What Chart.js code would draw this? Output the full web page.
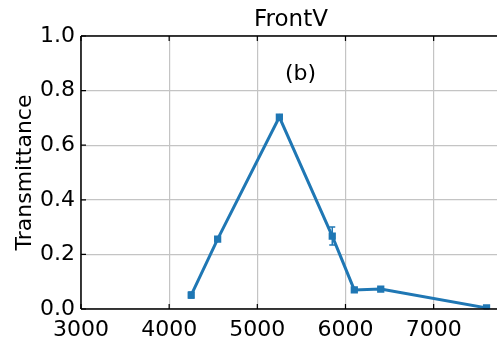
<!DOCTYPE html>
<html>
<head>
<meta charset="utf-8">
<script src="https://cdn.jsdelivr.net/npm/chart.js@4.4.0/dist/chart.umd.min.js"></script>
<style>
  html, body { margin: 0; padding: 0; background: #fff; overflow: hidden; }
  #wrap { width: 505px; height: 345px; }
</style>
</head>
<body>
<div id="wrap"><canvas id="myChart" width="505" height="345"></canvas></div>
<script>
const wavelengths = [4250, 4550, 5250, 5850, 6100, 6400, 7600];
const transmittance = [0.051, 0.256, 0.703, 0.267, 0.070, 0.073, 0.004];
const transErr = [0.011, 0.004, 0.005, 0.033, 0.004, 0.004, 0.003];
const xTicks = [3000, 4000, 5000, 6000, 7000];
const yTicks = [0.0, 0.2, 0.4, 0.6, 0.8, 1.0];

const lineColor = "#1f77b4";
const fontFam = "'DejaVu Sans', sans-serif";

// error bars, inward ticks, spines, title and "(b)" note
const extras = {
  id: "extras",
  afterDatasetsDraw(chart) {
    const ctx = chart.ctx;
    const xs = chart.scales.x, ys = chart.scales.y;
    ctx.save();
    ctx.strokeStyle = lineColor;
    ctx.lineWidth = 1.5;
    wavelengths.forEach((w, i) => {
      const px = xs.getPixelForValue(w);
      const y1 = ys.getPixelForValue(transmittance[i] - transErr[i]);
      const y2 = ys.getPixelForValue(transmittance[i] + transErr[i]);
      ctx.beginPath();
      ctx.moveTo(px, y1); ctx.lineTo(px, y2);
      ctx.moveTo(px - 3, y1); ctx.lineTo(px + 3, y1);
      ctx.moveTo(px - 3, y2); ctx.lineTo(px + 3, y2);
      ctx.stroke();
    });
    ctx.restore();
  },
  afterDraw(chart) {
    const ctx = chart.ctx;
    const a = chart.chartArea;
    const xs = chart.scales.x, ys = chart.scales.y;
    ctx.save();
    ctx.strokeStyle = "#000";
    ctx.lineWidth = 1.5;
    ctx.beginPath();
    ctx.moveTo(a.left, a.top); ctx.lineTo(a.right + 5, a.top);
    ctx.moveTo(a.left, a.top); ctx.lineTo(a.left, a.bottom);
    ctx.moveTo(a.left, a.bottom); ctx.lineTo(a.right + 5, a.bottom);
    ctx.stroke();
    ctx.lineWidth = 1.2;
    ctx.beginPath();
    xTicks.forEach(t => {
      const px = xs.getPixelForValue(t);
      ctx.moveTo(px, a.bottom); ctx.lineTo(px, a.bottom - 5);
      ctx.moveTo(px, a.top); ctx.lineTo(px, a.top + 5);
    });
    yTicks.forEach(t => {
      const py = ys.getPixelForValue(t);
      ctx.moveTo(a.left, py); ctx.lineTo(a.left + 5, py);
    });
    ctx.stroke();

    ctx.fillStyle = "#000";
    ctx.textAlign = "center";
    ctx.textBaseline = "middle";
    ctx.font = "23px " + fontFam;
    ctx.fillText("FrontV", 291, 20);
    ctx.font = "22px " + fontFam;
    ctx.fillText("(b)", xs.getPixelForValue(5490), ys.getPixelForValue(0.86));
    ctx.restore();
  }
};

new Chart(document.getElementById("myChart"), {
  type: "line",
  data: {
    datasets: [{
      data: wavelengths.map((w, i) => ({ x: w, y: transmittance[i] })),
      borderColor: lineColor,
      backgroundColor: lineColor,
      borderWidth: 3,
      pointStyle: "rect",
      pointRadius: 3,
      tension: 0,
    }],
  },
  options: {
    responsive: false,
    animation: false,
    devicePixelRatio: 1,
    events: [],
    layout: { padding: { top: 36, right: 0, left: 0, bottom: 0 } },
    plugins: { legend: { display: false }, title: { display: false }, tooltip: { enabled: false } },
    scales: {
      x: {
        type: "linear",
        min: 3000,
        max: 7730,
        afterBuildTicks(s) { s.ticks = xTicks.map(v => ({ value: v })); },
        afterFit(s) { s.height = 36; },
        grid: { color: "#c4c4c4", lineWidth: 1.2, drawTicks: false },
        border: { display: false },
        ticks: {
          padding: 8,
          color: "#000",
          font: { family: fontFam, size: 22 },
          maxRotation: 0,
          autoSkip: false,
          callback: v => String(v),
        },
      },
      y: {
        min: 0,
        max: 1,
        afterBuildTicks(s) { s.ticks = yTicks.map(v => ({ value: v })); },
        afterFit(s) { s.width = 81; },
        grid: { color: "#c4c4c4", lineWidth: 1.2, drawTicks: false },
        border: { display: false },
        title: {
          display: true,
          text: "Transmittance",
          color: "#000",
          font: { family: fontFam, size: 22 },
          padding: { top: 12, bottom: 0 },
        },
        ticks: {
          padding: 6,
          color: "#000",
          font: { family: fontFam, size: 22 },
          autoSkip: false,
          callback: v => v.toFixed(1),
        },
      },
    },
  },
  plugins: [extras],
});
</script>
</body>
</html>
